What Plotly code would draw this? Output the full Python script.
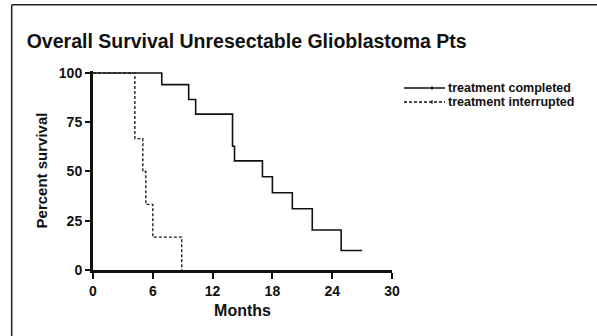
import plotly.graph_objects as go

# Data
completed_months = [0, 6.9, 9.6, 10.3, 14.0, 14.2, 17.0, 18.0, 20.0, 22.0, 24.9, 27.0]
completed_surv = [100, 94.1, 86.5, 79.1, 62.8, 55.4, 47.3, 39.2, 31.1, 20.3, 9.9, 9.9]

interrupted_months = [0, 4.2, 5.0, 5.3, 6.0, 8.9]
interrupted_surv = [100, 66.7, 50.0, 33.3, 16.7, 0]

x_ticks = [0, 6, 12, 18, 24, 30]
y_ticks = [0, 25, 50, 75, 100]
series_names = ["treatment completed", "treatment interrupted"]

FONT = "Liberation Sans, Arial, sans-serif"

fig = go.Figure()
fig.add_trace(go.Scatter(x=completed_months, y=completed_surv, mode="lines",
                         line=dict(shape="hv", color="#111111", width=1.6),
                         name=series_names[0], showlegend=False))
fig.add_trace(go.Scatter(x=interrupted_months, y=interrupted_surv, mode="lines",
                         line=dict(shape="hv", color="#222222", width=1.4, dash="3px,2px"),
                         name=series_names[1], showlegend=False))

W, H = 597, 336
L, R, T, B = 93, 205, 71, 66
pw, ph = W - L - R, H - T - B

def px(xpix):
    return (xpix - L) / pw

def py(ypix):
    return (H - B - ypix) / ph

shapes = []
annotations = []
# legend (manual, compact spacing as in the reference)
for i, (name, dash) in enumerate(zip(series_names, ["solid", "3px,2px"])):
    yy = py(88.0 + i * 14.0)
    shapes.append(dict(type="line", xref="paper", yref="paper",
                       x0=px(404), x1=px(445), y0=yy, y1=yy,
                       line=dict(color="#111111", width=1.4, dash=dash)))
    shapes.append(dict(type="line", xref="paper", yref="paper",
                       x0=px(432), x1=px(432), y0=yy - 1.8 / ph, y1=yy + 1.8 / ph,
                       line=dict(color="#111111", width=1.2)))
    annotations.append(dict(xref="paper", yref="paper", x=px(446), y=yy,
                            xanchor="left", yanchor="middle", showarrow=False,
                            text=name, font=dict(family=FONT, size=12.5, color="#111111",
                                                 weight="bold")))
# outer frame (top and left edges)
shapes.append(dict(type="line", xref="paper", yref="paper",
                   x0=px(11.7), x1=px(597), y0=py(4.7), y1=py(4.7),
                   line=dict(color="#222222", width=1.5)))
shapes.append(dict(type="line", xref="paper", yref="paper",
                   x0=px(11.7), x1=px(11.7), y0=py(4.7), y1=py(336),
                   line=dict(color="#222222", width=1.5)))

fig.update_layout(
    width=W, height=H,
    margin=dict(l=L, r=R, t=T, b=B, pad=0),
    paper_bgcolor="white", plot_bgcolor="white",
    title=dict(text="Overall Survival Unresectable Glioblastoma Pts",
               x=26.7 / W, xref="container", xanchor="left",
               y=1 - 41.3 / H, yref="container", yanchor="middle",
               font=dict(family=FONT, size=19.5, color="#111111", weight="bold")),
    shapes=shapes, annotations=annotations,
    showlegend=False,
)
fig.update_xaxes(range=[0, 30], tickvals=x_ticks, ticktext=[str(v) for v in x_ticks],
                 showline=True, linewidth=3, linecolor="#111111", mirror=False,
                 ticks="outside", ticklen=6, tickwidth=2, tickcolor="#111111",
                 showgrid=False, zeroline=False,
                 tickfont=dict(family=FONT, size=14, color="#111111", weight="bold"),
                 title=dict(text="Months", standoff=8,
                            font=dict(family=FONT, size=16, color="#111111", weight="bold")))
fig.update_yaxes(range=[0, 101], tickvals=y_ticks, ticktext=[str(v) for v in y_ticks],
                 showline=True, linewidth=3, linecolor="#111111", mirror=False,
                 ticks="outside", ticklen=5, tickwidth=2, tickcolor="#111111",
                 showgrid=False, zeroline=False,
                 tickfont=dict(family=FONT, size=14, color="#111111", weight="bold"),
                 title=dict(text="Percent survival", standoff=8,
                            font=dict(family=FONT, size=15, color="#111111", weight="bold")))

fig.write_html("out.html")
